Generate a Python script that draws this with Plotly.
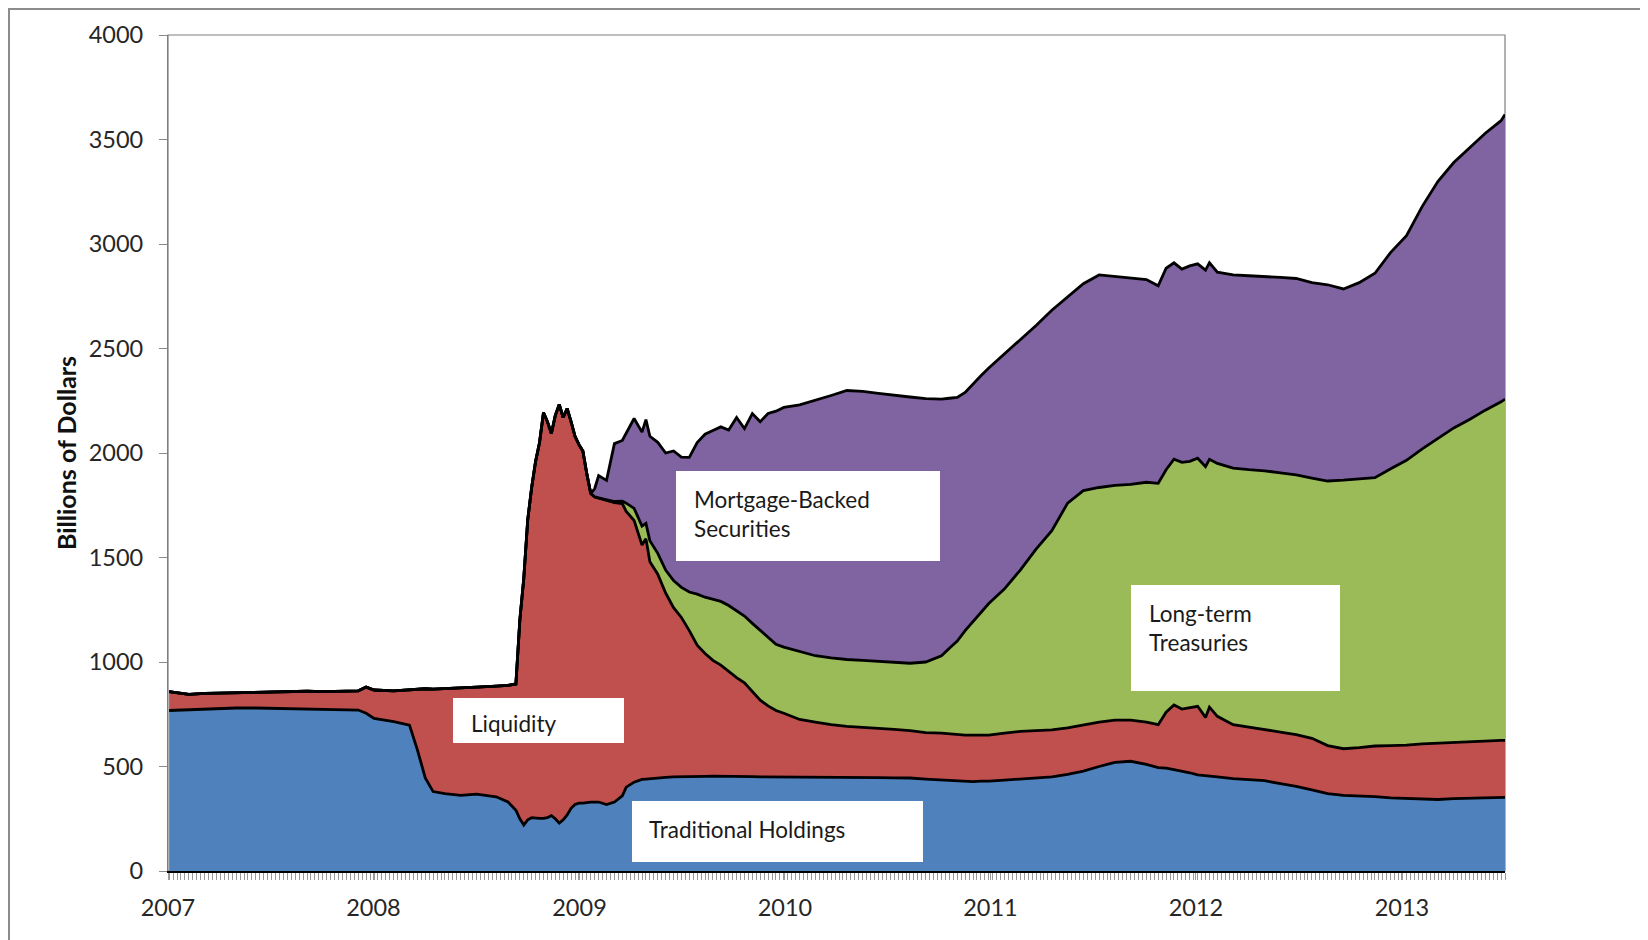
import plotly.graph_objects as go

# weekly-ish sample dates (denser where the series move fast)
dates = [
    "2007-01-03", "2007-02-07", "2007-03-07", "2007-04-04", "2007-05-02", "2007-06-06", "2007-07-04",
    "2007-08-01", "2007-09-05", "2007-10-03", "2007-11-07", "2007-12-05", "2007-12-19",
    "2008-01-02", "2008-02-06", "2008-03-05", "2008-03-19", "2008-04-02", "2008-04-16", "2008-05-07",
    "2008-06-04", "2008-07-02", "2008-08-06", "2008-08-27", "2008-09-10", "2008-09-17", "2008-09-24",
    "2008-10-01", "2008-10-08", "2008-10-15", "2008-10-22", "2008-10-29", "2008-11-05", "2008-11-12",
    "2008-11-19", "2008-11-26", "2008-12-03", "2008-12-10", "2008-12-17", "2008-12-24", "2008-12-31",
    "2009-01-07", "2009-01-14", "2009-01-21", "2009-01-28", "2009-02-04", "2009-02-18", "2009-03-04",
    "2009-03-18", "2009-03-25", "2009-04-08", "2009-04-22", "2009-04-29", "2009-05-06", "2009-05-20",
    "2009-06-03", "2009-06-17", "2009-07-01", "2009-07-15", "2009-07-29", "2009-08-12", "2009-08-26",
    "2009-09-09", "2009-09-23", "2009-10-07", "2009-10-21", "2009-11-04", "2009-11-18", "2009-12-02",
    "2009-12-16", "2009-12-30",
    "2010-01-27", "2010-02-24", "2010-03-24", "2010-04-21", "2010-05-19", "2010-06-16", "2010-07-14",
    "2010-08-11", "2010-09-08", "2010-10-06", "2010-10-20", "2010-11-03", "2010-11-17", "2010-12-01",
    "2010-12-15", "2010-12-29",
    "2011-01-26", "2011-02-23", "2011-03-23", "2011-04-20", "2011-05-18", "2011-06-15", "2011-07-13",
    "2011-08-10", "2011-09-07", "2011-10-05", "2011-10-26", "2011-11-09", "2011-11-23", "2011-12-07",
    "2011-12-21",
    "2012-01-04", "2012-01-18", "2012-01-25", "2012-02-08", "2012-03-07", "2012-04-04", "2012-05-02",
    "2012-05-30", "2012-06-27", "2012-07-25", "2012-08-22", "2012-09-19", "2012-10-17", "2012-11-14",
    "2012-12-12",
    "2013-01-09", "2013-02-06", "2013-03-06", "2013-04-03", "2013-05-01", "2013-05-29", "2013-06-26",
    "2013-07-03",
]

traditional = [
    768, 772, 776, 778, 780, 780, 779, 778, 776, 775, 773, 770, 755,
    730, 715, 698, 580, 445, 380, 370, 362, 368, 355, 330, 291, 250, 220,
    245, 255, 252, 252, 252, 255, 265, 250, 229, 245, 268, 300, 318, 325,
    325, 328, 330, 330, 330, 318, 330, 360, 401, 425, 438, 440, 442, 445,
    448, 450, 450, 452, 452, 453, 454, 454, 455, 455, 453, 452, 450, 450, 449, 449,
    448, 447, 447, 447, 448, 447, 446, 445, 440, 436, 432, 430, 428, 428, 430, 430,
    435, 440, 445, 450, 462, 478, 500, 520, 525, 510, 495, 492, 485, 478, 470,
    460, 455, 453, 450, 442, 438, 432, 418, 405, 388, 370, 362, 360, 356, 350,
    348, 345, 342, 346, 348, 350, 352, 352,
]

liquidity = [
    90, 73, 74, 74, 73, 75, 77, 80, 84, 83, 87, 92, 125,
    136, 147, 170, 290, 427, 490, 502, 514, 512, 530, 558, 604, 950, 1180,
    1435, 1580, 1708, 1798, 1942, 1895, 1828, 1930, 2003, 1925, 1945, 1850, 1762, 1715,
    1685, 1572, 1476, 1460, 1455, 1457, 1433, 1398, 1319, 1252, 1122, 1150, 1038, 975,
    882, 810, 763, 698, 628, 588, 554, 531, 500, 470, 447, 408, 367, 340, 319, 306,
    277, 265, 253, 245, 240, 237, 232, 227, 222, 224, 224, 222, 222, 222, 220, 220,
    225, 228, 227, 225, 223, 222, 212, 202, 197, 202, 205, 268, 309, 297, 310,
    328, 280, 331, 290, 258, 250, 246, 247, 247, 247, 230, 223, 230, 242, 250,
    254, 263, 270, 270, 272, 272, 273, 273,
]

treasuries = [
    0, 0, 0, 0, 0, 0, 0, 0, 0, 0, 0, 0, 0,
    0, 0, 0, 0, 0, 0, 0, 0, 0, 0, 0, 0, 0, 0,
    0, 0, 0, 0, 0, 0, 0, 0, 0, 0, 0, 0, 0, 0,
    0, 0, 0, 0, 0, 0, 5, 12, 40, 58, 90, 73, 100, 100,
    110, 130, 144, 185, 245, 269, 292, 305, 315, 320, 320, 325, 335, 325, 317, 316,
    325, 318, 320, 320, 320, 319, 320, 322, 338, 370, 410, 448, 500, 545, 590, 630,
    690, 772, 868, 953, 1075, 1120, 1123, 1123, 1128, 1148, 1155, 1160, 1176, 1180, 1180,
    1187, 1200, 1186, 1210, 1228, 1232, 1237, 1240, 1243, 1245, 1266, 1285, 1287, 1284, 1325,
    1363, 1412, 1458, 1504, 1540, 1583, 1620, 1633,
]

mbs = [
    0, 0, 0, 0, 0, 0, 0, 0, 0, 0, 0, 0, 0,
    0, 0, 0, 0, 0, 0, 0, 0, 0, 0, 0, 0, 0, 0,
    0, 0, 0, 0, 0, 0, 0, 0, 0, 0, 0, 0, 0, 0,
    0, 0, 0, 40, 107, 94, 277, 290, 333, 430, 450, 497, 500, 531,
    560, 620, 623, 644, 725, 780, 808, 835, 840, 925, 897, 1004, 998, 1074, 1115, 1147,
    1180, 1221, 1255, 1287, 1287, 1282, 1280, 1274, 1260, 1228, 1196, 1166, 1140, 1137, 1130, 1127,
    1125, 1105, 1070, 1055, 985, 990, 1017, 1000, 990, 970, 945, 964, 940, 925, 935,
    930, 940, 940, 915, 924, 928, 930, 935, 940, 935, 939, 915, 938, 978, 1035,
    1075, 1160, 1230, 1270, 1300, 1325, 1345, 1362,
]

year_ticks = ["2007-01-01", "2008-01-01", "2009-01-01", "2010-01-01",
              "2011-01-01", "2012-01-01", "2013-01-01"]
year_labels = ["2007", "2008", "2009", "2010", "2011", "2012", "2013"]

# the page body has an 8px margin, so work in figure pixels = page pixels - 8
W, H = 1640, 932
L, R, T, B = 160, 1497, 27, 863


def px_x(x):
    return (x - 8 - L) / (R - L)


def px_y(y):
    return (B - (y - 8)) / (B - T)


FONT = "Lato, 'Open Sans', sans-serif"

series = [
    ("Traditional Holdings", traditional, "#4F81BD"),
    ("Liquidity", liquidity, "#C0504D"),
    ("Long-term Treasuries", treasuries, "#9BBB59"),
    ("Mortgage-Backed Securities", mbs, "#8064A2"),
]

fig = go.Figure()
for name, vals, color in series:
    fig.add_trace(go.Scatter(
        x=dates, y=vals, name=name, stackgroup="one", mode="lines",
        line=dict(color="black", width=2.8), fillcolor=color,
    ))

# white label boxes (page pixel corners) and their text anchor
boxes = [
    ((676, 471, 940, 561), (692, 514), "Mortgage-Backed<br>Securities"),
    ((1131, 585, 1340, 691), (1147, 628), "Long-term<br>Treasuries"),
    ((453, 698, 624, 743), (469, 723), "Liquidity"),
    ((632, 801, 923, 862), (647, 829), "Traditional Holdings"),
]
shapes = [
    # outer frame of the chart object
    dict(type="rect", xref="paper", yref="paper",
         x0=px_x(9), y0=px_y(1100), x1=px_x(1800), y1=px_y(9),
         line=dict(color="#8c8c8c", width=2), fillcolor="rgba(0,0,0,0)", layer="below"),
    # plot area border
    dict(type="rect", xref="paper", yref="paper", x0=0, y0=0, x1=1, y1=1,
         line=dict(color="#7f7f7f", width=1.2), fillcolor="rgba(0,0,0,0)", layer="below"),
]
annotations = []
for (x0, y0, x1, y1), (tx, ty), text in boxes:
    shapes.append(dict(type="rect", xref="paper", yref="paper",
                       x0=px_x(x0), x1=px_x(x1), y0=px_y(y1), y1=px_y(y0),
                       fillcolor="white", line=dict(width=0), layer="above"))
    annotations.append(dict(xref="paper", yref="paper", x=px_x(tx), y=px_y(ty),
                            text=text, showarrow=False, xanchor="left", yanchor="middle",
                            align="left", font=dict(family=FONT, size=22.5, color="#1a1a1a")))

annotations.append(dict(xref="paper", yref="paper", x=px_x(66), y=0.5,
                        text="<b>Billions of Dollars</b>", textangle=-90, showarrow=False,
                        xanchor="center", yanchor="middle",
                        font=dict(family=FONT, size=25, color="#111")))

fig.update_layout(
    width=W, height=H,
    margin=dict(l=L, r=W - R, t=T, b=H - B),
    paper_bgcolor="white", plot_bgcolor="white",
    showlegend=False,
    shapes=shapes, annotations=annotations,
    font=dict(family=FONT, color="#262626"),
)
fig.update_xaxes(
    type="date", range=["2007-01-01", "2013-07-03"],
    tickvals=year_ticks, ticktext=year_labels,
    ticks="outside", ticklen=7, tickcolor="#9a9a9a", tickwidth=1,
    minor=dict(dtick=7 * 86400000, tick0="2007-01-03", ticks="outside",
               ticklen=7, tickcolor="#9a9a9a", tickwidth=1, showgrid=False),
    showgrid=False, showline=True, linecolor="black", linewidth=2,
    tickfont=dict(family=FONT, size=23.5, color="#262626"),
    ticklabelstandoff=8,
)
fig.update_yaxes(
    range=[0, 4000], dtick=500, tick0=0,
    ticks="outside", ticklen=8, tickcolor="#8c8c8c",
    showgrid=False, zeroline=False, showline=True, linecolor="#7f7f7f", linewidth=1.2,
    tickfont=dict(family=FONT, size=23.5, color="#262626"),
    ticklabelstandoff=11,
)

fig.write_html("out.html")
